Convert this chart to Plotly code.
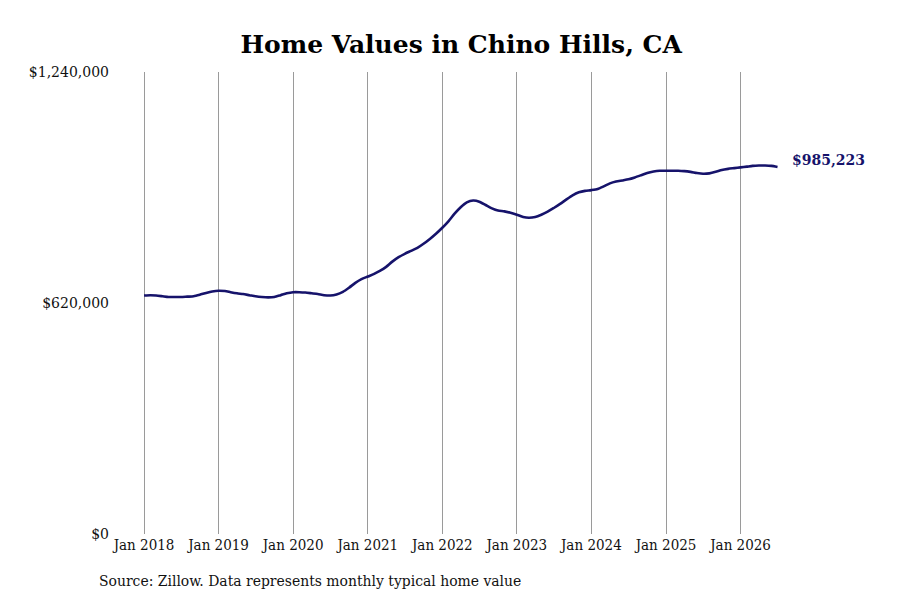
import pandas as pd
import plotly.graph_objects as go

# monthly typical home value, Jan 2018 .. Jul 2026 (USD)
months = pd.date_range("2018-01-01", "2026-07-01", freq="MS")
values = [
    640000, 641000, 640000, 638000, 636000, 636000, 636000, 637000, 638000, 642000, 647000, 651000,
    653000, 652000, 649000, 646000, 644000, 641000, 638000, 636000, 635000, 636000, 641000, 646000,
    649000, 649000, 648000, 646000, 644000, 641000, 640000, 643000, 650000, 661000, 674000, 684000,
    691000, 698000, 706000, 717000, 731000, 743000, 752000, 760000, 768000, 779000, 792000, 806000,
    822000, 840000, 859000, 877000, 890000, 895000, 892000, 883000, 874000, 868000, 866000, 862000,
    857000, 851000, 849000, 851000, 857000, 865000, 875000, 886000, 898000, 909000, 917000, 921000,
    923000, 926000, 933000, 941000, 946000, 949000, 952000, 957000, 963000, 969000, 973000, 975000,
    975000, 975000, 975000, 974000, 972000, 969000, 967000, 968000, 972000, 977000, 980000, 982000,
    984000, 986000, 988000, 989000, 989000, 988000, 985223,
]

tick_vals = [0, 620000, 1240000]
tick_text = ["$0", "$620,000", "$1,240,000"]
x_ticks = pd.date_range("2018-01-01", "2026-01-01", freq="YS")

navy = "#16136b"
font = "DejaVu Serif"
font_cond = "DejaVu Serif Condensed"

fig = go.Figure()

fig.add_trace(go.Scatter(x=months,
                         y=values,
                         mode='lines',
                         line=dict(color=navy, width=2.6, shape='spline', smoothing=0.6),
                         hoverinfo='skip'))

# label for the latest value
fig.add_annotation(x=months[-1], y=values[-1],
                   text="<b>$%s</b>" % format(values[-1], ","),
                   showarrow=False, xanchor='left', xshift=12, yshift=7,
                   font=dict(family=font, size=14, color=navy))

fig.add_annotation(x=0, y=-0.1017, xref='paper', yref='paper',
                   xanchor='left', yanchor='middle', xshift=-15,
                   text="Source: Zillow. Data represents monthly typical home value",
                   showarrow=False,
                   font=dict(family=font_cond, size=15.5, color="#111111"))

# the page puts the plot 8px in from the top-left, so the figure is a bit smaller
fig.update_layout(width=892, height=592,
                  showlegend=False,
                  plot_bgcolor='white',
                  paper_bgcolor='white',
                  margin=dict(l=104, r=20, t=64, b=66),
                  font=dict(family=font, size=14, color="#111111"),
                  title=dict(text="<b>Home Values in Chino Hills, CA</b>",
                             x=0.508, xanchor='center', y=0.939, yanchor='middle',
                             font=dict(family=font, size=25, color="#000000")),
                  xaxis=dict(range=["2017-07-28", "2027-11-15"],
                             tickvals=x_ticks,
                             ticktext=[d.strftime("Jan %Y") for d in x_ticks],
                             tickfont=dict(family=font_cond, size=15),
                             showgrid=True, gridcolor="#9a9a9a", gridwidth=1,
                             zeroline=False, showline=False, ticks=''),
                  yaxis=dict(range=[0, 1240000],
                             tickvals=tick_vals, ticktext=tick_text,
                             ticklabelstandoff=2,
                             showgrid=False, zeroline=False, showline=False,
                             ticks=''))

fig.write_html("out.html")
